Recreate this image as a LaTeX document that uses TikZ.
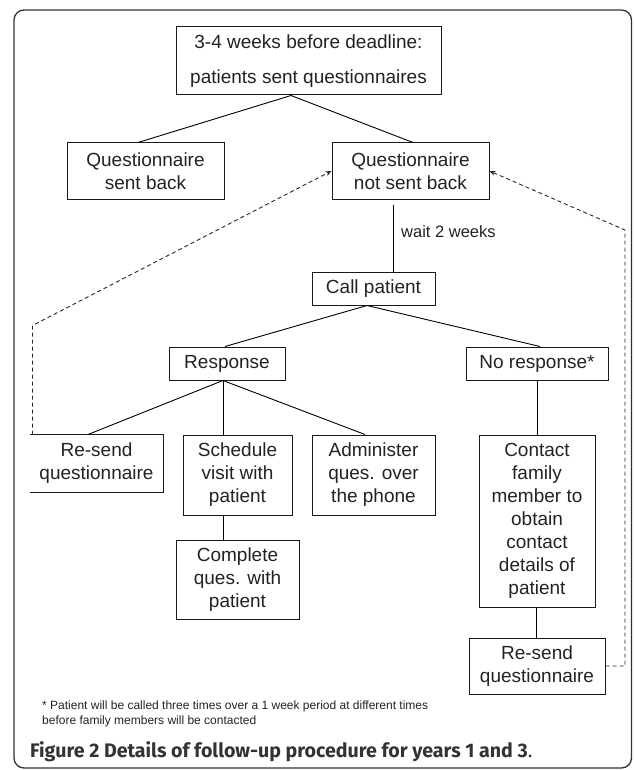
\documentclass[tikz,border=0pt]{standalone}
\usepackage{fontspec}
\setmainfont{Liberation Sans}
\newfontfamily\capfont{Fira Sans}
\usetikzlibrary{arrows.meta,calc}
\definecolor{txt}{HTML}{222222}
\definecolor{framec}{HTML}{333333}
\begin{document}
\begin{tikzpicture}[x=1pt,y=-1pt,
  box/.style={draw=black!90, line width=1pt, inner sep=0pt, align=center, text=txt,
    font=\fontsize{19}{23}\selectfont},
  conn/.style={line width=0.9pt, black},
  back/.style={line width=0.9pt, dash pattern=on 4pt off 3pt, black!85},
  tip/.style={-{Stealth[length=6pt,width=5pt]}},
  small/.style={text=txt, inner sep=0pt, font=\fontsize{12}{15}\selectfont}]
\useasboundingbox (0,0) rectangle (633,770);
\draw[line width=1.3pt, framec, rounded corners=10pt] (14,10) rectangle (631.5,768);

\node[box, minimum width=265pt, minimum height=68pt] (top) at (308.5,61)
  {3-4 weeks before deadline:\\[12pt]patients sent questionnaires};
\node[box, minimum width=157pt, minimum height=56pt] (qsb) at (145.5,171)
  {Questionnaire\\sent back};
\node[box, minimum width=157pt, minimum height=56pt] (qnsb) at (410.5,171)
  {Questionnaire\\not sent back};
\node[box, minimum width=123pt, minimum height=33pt] (call) at (373.5,288.5)
  {Call patient};
\node[box, minimum width=116pt, minimum height=33pt] (resp) at (227,363.5)
  {Response};
\node[box, minimum width=142pt, minimum height=33pt] (noresp) at (537,363.5)
  {No response*};
\node[box, draw=none, minimum width=133pt, minimum height=57pt] (resend1) at (96.5,463.5)
  {Re-send\\questionnaire};
\draw[line width=1pt, black!90] (resend1.north west) -- (resend1.north east)
  -- (resend1.south east) -- (resend1.south west);
\node[box, minimum width=109pt, minimum height=80pt] (sched) at (237.5,475)
  {Schedule\\visit with\\patient};
\node[box, minimum width=123pt, minimum height=80pt] (admin) at (373.5,475)
  {Administer\\ques. over\\the phone};
\node[box, minimum width=116pt, minimum height=172pt] (contact) at (537,521)
  {Contact\\family\\member to\\obtain\\contact\\details of\\patient};
\node[box, minimum width=123pt, minimum height=79pt] (complete) at (237.5,579.5)
  {Complete\\ques. with\\patient};
\node[box, minimum width=136pt, minimum height=56pt] (resend2) at (537,666)
  {Re-send\\questionnaire};

% solid connectors
\draw[conn] ($(top.south)+(-17.5,0)$) -- ($(qsb.north)+(-7.5,0)$);
\draw[conn] ($(top.south)+(-17.5,0)$) -- ($(qnsb.north)+(2.5,0)$);
\draw[conn] ($(qnsb.south)+(-17.5,5)$) coordinate (w1) -- (w1 |- call.north);
\node[small, anchor=west, font=\fontsize{16.5}{19}\selectfont] (wait) at ($(w1)+(8,27)$) {wait 2 weeks};
\draw[conn] ($(call.south)+(-6.5,0)$) -- ($(resp.north)+(-2,0)$);
\draw[conn] ($(call.south)+(-6.5,0)$) -- ($(noresp.north)+(3,0)$);
\draw[conn] ($(resp.south)+(-4,0)$) coordinate (r1) -- ($(resend1.north)+(-8.5,0)$);
\draw[conn] (r1) -- (r1 |- sched.north);
\draw[conn] (r1) -- ($(admin.north)+(-8.5,0)$);
\draw[conn] ($(sched.south)+(-14.5,0)$) coordinate (s1) -- (s1 |- complete.north);
\draw[conn] (noresp.south) -- (contact.north);
\draw[conn] ($(contact.south)+(-1,0)$) coordinate (c1) -- (c1 |- resend2.north);

% dashed feedback
\draw[back, tip] ($(resend1.north west)+(3,0)$) -- ++(0,-109) -- (qnsb.west);
\coordinate (rc) at (625,230);
\draw[back, tip] (resend2.east) -- (rc |- resend2.east) -- (rc) -- (qnsb.east);

% footnote and caption
\node[small, anchor=base west] (fn1) at (42,709)
  {* Patient will be called three times over a 1 week period at different times};
\node[small, anchor=base west] (fn2) at (42,724)
  {before family members will be contacted};
\node[anchor=base west, inner sep=0pt, text=black!80,
  font=\capfont\bfseries\fontsize{19.6}{22}\selectfont] (cap) at (30,757)
  {Figure 2 Details of follow-up procedure for years 1 and 3{\mdseries .}};
\end{tikzpicture}
\end{document}
